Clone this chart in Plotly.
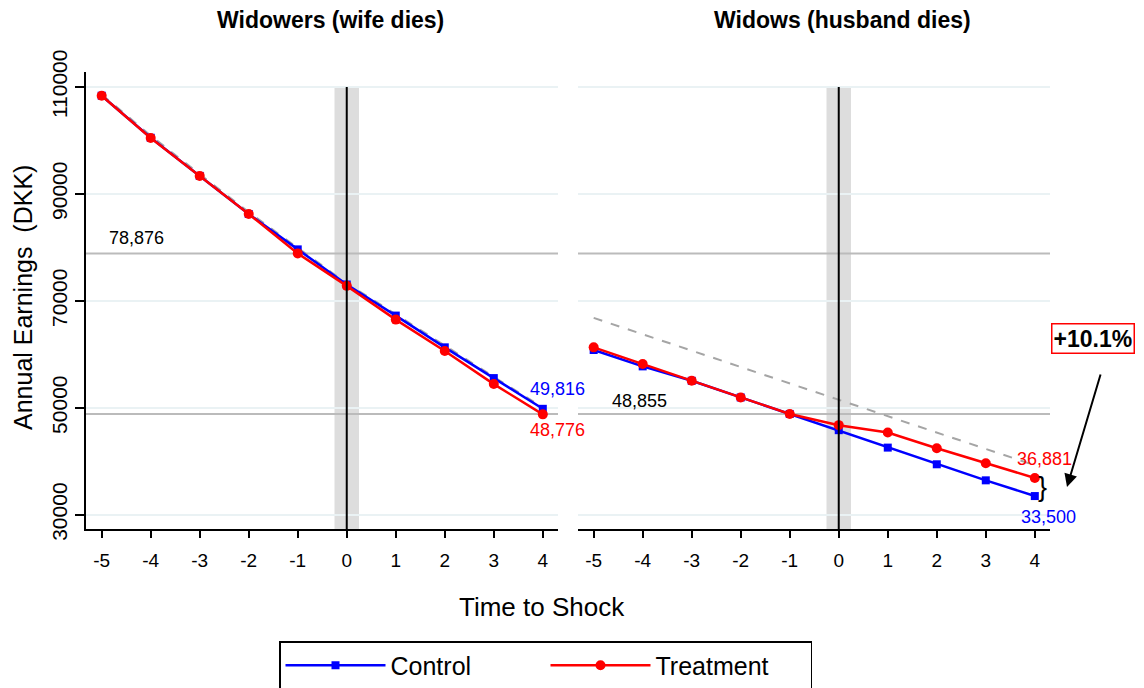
import plotly.graph_objects as go
from plotly.subplots import make_subplots

## ==== ##
## DATA ##
## ==== ##

t = [-5, -4, -3, -2, -1, 0, 1, 2, 3, 4]

# Widowers (wife dies)
men_control = [108370, 100500, 93370, 86250, 79630, 73060, 67250, 61310, 55560, 49816]
men_treat = [108370, 100450, 93370, 86250, 78876, 72810, 66500, 60620, 54440, 48776]
men_trend = [108600, 100900, 93700, 86600, 79900, 73300, 67500, 61600, 55800, 50100]

# Widows (husband dies)
women_control = [60810, 57750, 55060, 51940, 48855, 45820, 42560, 39440, 36440, 33500]
women_treat = [61310, 58190, 55060, 51940, 48855, 46760, 45370, 42440, 39630, 36881]
women_trend_t = [-5, 4]
women_trend = [66820, 39250]

ref_levels = [78876, 48855]
ytick_vals = [30000, 50000, 70000, 90000, 110000]
ytick_text = ['30000', '50000', '70000', '90000', '110000']

BLUE = '#0000ff'
RED = '#ff0000'
FONT = 'Liberation Sans, Arial, sans-serif'
W, H = 1144, 688
OFF = 8  # page body margin shifts the figure by 8px

def px(x):  # screen pixel -> paper fraction
    return (x - OFF) / W

def py(y):
    return 1 - (y - OFF) / H

fig = make_subplots(rows=1, cols=2, shared_yaxes=False)

panels = [(1, men_control, men_treat, t, men_trend), (2, women_control, women_treat, women_trend_t, women_trend)]
for col, ctrl, treat, tt, trend in panels:
    xref = 'x' if col == 1 else 'x2'
    yref = 'y' if col == 1 else 'y2'
    # shaded band and shock line
    fig.add_shape(type='rect', xref=xref, yref=yref, x0=-0.25, x1=0.25, y0=27340, y1=110000,
                  fillcolor='#dddddd', line_width=0, layer='below')
    for lv in ref_levels:
        fig.add_shape(type='line', xref=xref, yref=yref, x0=-5.32, x1=4.31, y0=lv, y1=lv,
                      line=dict(color='#bbbbbb', width=2), layer='below')
    fig.add_shape(type='line', xref=xref, yref=yref, x0=0, x1=0, y0=27340, y1=110000,
                  line=dict(color='#000000', width=2))
    fig.add_trace(go.Scatter(x=tt, y=trend, mode='lines', showlegend=False,
                             line=dict(color='#a5a5a5', width=2, dash='dash'),
                             hoverinfo='skip'), row=1, col=col)
    fig.add_trace(go.Scatter(x=t, y=ctrl, name='Control', mode='lines+markers',
                             line=dict(color=BLUE, width=2.5),
                             marker=dict(symbol='square', size=8, color=BLUE),
                             showlegend=(col == 1)), row=1, col=col)
    fig.add_trace(go.Scatter(x=t, y=treat, name='Treatment', mode='lines+markers',
                             line=dict(color=RED, width=2.5),
                             marker=dict(symbol='circle', size=10, color=RED),
                             showlegend=(col == 1)), row=1, col=col)

#Axes
fig.update_xaxes(range=[-5.32, 4.31], tickvals=t, ticktext=[str(v) for v in t],
                 showgrid=False, zeroline=False, showline=True, linecolor='#000000', linewidth=2,
                 ticks='outside', ticklen=7, tickwidth=1.5, tickcolor='#000000',
                 ticklabelstandoff=6, automargin=False,
                 tickfont=dict(size=19, color='#000000', family=FONT))
fig.update_xaxes(domain=[px(86), px(558)], row=1, col=1)
fig.update_xaxes(domain=[px(578), px(1050)], row=1, col=2)

fig.update_yaxes(range=[27340, 112800], tickvals=ytick_vals, ticktext=ytick_text, showgrid=True,
                 gridcolor='#eaf2f4', gridwidth=2, zeroline=False, automargin=False,
                 domain=[py(529), py(72)])
fig.update_yaxes(showline=True, linecolor='#000000', linewidth=2, ticks='outside', ticklen=9,
                 tickwidth=1.5, tickcolor='#000000', tickangle=-90, ticklabelstandoff=0,
                 tickfont=dict(size=21, color='#000000', family=FONT),
                 row=1, col=1)
fig.update_yaxes(showline=False, showticklabels=False, ticks='', row=1, col=2)

#Titles
titles = [
    (330, 20, '<b>Widowers (wife dies)</b>', 23, 0),
    (842, 20, '<b>Widows (husband dies)</b>', 23, 0),
    (542, 607, 'Time to Shock', 26, 0),
    (23, 298, 'Annual Earnings  (DKK)', 25, -90),
]
for x, y, txt, size, ang in titles:
    fig.add_annotation(xref='paper', yref='paper', x=px(x), y=py(y), text=txt, textangle=ang,
                       xanchor='center', yanchor='middle', showarrow=False,
                       font=dict(size=size, color='#000000', family=FONT))

#Value labels
labels = [
    ('x', 'y', -4.28, ref_levels[0], '78,876', '#000000', 'bottom', 3),
    ('x2', 'y2', -4.07, ref_levels[1], '48,855', '#000000', 'bottom', 1),
    ('x', 'y', 4.29, men_control[-1], '49,816', BLUE, 'bottom', 8),
    ('x', 'y', 4.29, men_treat[-1], '48,776', RED, 'top', -4),
    ('x2', 'y2', 4.19, women_treat[-1], '36,881', RED, 'bottom', 7),
    ('x2', 'y2', 4.27, women_control[-1], '33,500', BLUE, 'top', -9),
]
for xr, yr, x, y, txt, colr, ya, shift in labels:
    fig.add_annotation(xref=xr, yref=yr, x=x, y=y, text=txt, showarrow=False,
                       xanchor='center', yanchor=ya, yshift=shift,
                       font=dict(size=18, color=colr, family=FONT))

fig.add_annotation(xref='x2', yref='y2', x=4.16, y=0.5*(women_treat[-1]+women_control[-1]),
                   text='}', showarrow=False, font=dict(size=27, color='#000000', family=FONT))
fig.add_annotation(xref='paper', yref='paper', x=px(1093), y=py(338), text='<b>+10.1%</b>',
                   xanchor='center', yanchor='middle',
                   showarrow=False, bordercolor=RED, borderwidth=1.5, borderpad=1, bgcolor='#ffffff',
                   font=dict(size=23, color='#000000', family=FONT))
fig.add_annotation(xref='paper', yref='paper', x=px(1067), y=py(487), ax=34, ay=-114,
                   text='', showarrow=True, arrowhead=2, arrowsize=1.3,
                   arrowwidth=2, arrowcolor='#000000')

#Layout
fig.update_layout(width=W, height=H, margin=dict(l=0, r=0, t=0, b=0),
                  plot_bgcolor='#ffffff', paper_bgcolor='#ffffff',
                  font=dict(family=FONT, color='#000000'),
                  legend=dict(orientation='h', x=px(279), xanchor='left', y=py(641), yanchor='top',
                              bordercolor='#000000', borderwidth=1.5, bgcolor='#ffffff',
                              font=dict(size=25, family=FONT, color='#000000'),
                              itemwidth=100, entrywidth=150),
                  showlegend=True)

fig.write_html("out.html")
